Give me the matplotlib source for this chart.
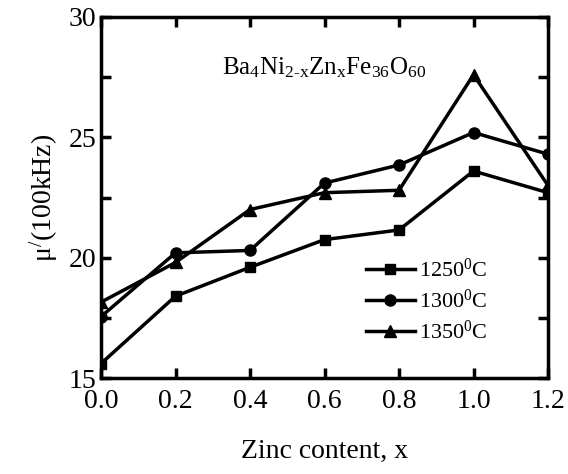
import matplotlib
matplotlib.use('Agg')
import matplotlib.pyplot as plt
from matplotlib.ticker import MultipleLocator

plt.rcParams['font.family'] = ['Liberation Serif', 'DejaVu Serif']
plt.rcParams['mathtext.fontset'] = 'custom'
plt.rcParams['mathtext.rm'] = 'Liberation Serif'
plt.rcParams['mathtext.it'] = 'Liberation Serif:italic'

x = [0.0, 0.2, 0.4, 0.6, 0.8, 1.0, 1.2]
mu_1250 = [15.6, 18.4, 19.6, 20.75, 21.15, 23.6, 22.7]
mu_1300 = [17.55, 20.2, 20.3, 23.1, 23.85, 25.2, 24.3]
mu_1350 = [18.15, 19.8, 22.0, 22.7, 22.8, 27.6, 23.0]

fig = plt.figure(figsize=(5.68, 4.74), dpi=100)
ax = fig.add_axes([101 / 568, 1 - 378 / 474, 447 / 568, 361 / 474])

ax.plot(x, mu_1250, 'k-', marker='s', lw=2.5, ms=7, label='1250$^0$C')
ax.plot(x, mu_1300, 'k-', marker='o', lw=2.5, ms=8, label='1300$^0$C')
ax.plot(x, mu_1350, 'k-', marker='^', lw=2.5, ms=8, label='1350$^0$C')

ax.set_xlim(0, 1.2)
ax.set_ylim(15, 30)
ax.xaxis.set_major_locator(MultipleLocator(0.2))
ax.yaxis.set_major_locator(MultipleLocator(5))
ax.yaxis.set_minor_locator(MultipleLocator(2.5))
ax.tick_params(which='both', direction='in', top=True, right=True, width=2.5,
               labelsize=20)
ax.tick_params(which='major', length=7)
ax.tick_params(which='minor', length=7)
ax.tick_params(axis='x', pad=8)
for s in ax.spines.values():
    s.set_linewidth(2.5)

ax.set_xlabel('Zinc content, x', fontsize=20, labelpad=18)
ax.set_ylabel('μ$^{/}$(100kHz)', fontsize=20, labelpad=6)

ax.text(0.5, 0.86, r'Ba$_4$Ni$_{\text{2-x}}$Zn$_\mathrm{x}$Fe$_{36}$O$_{60}$',
        transform=ax.transAxes, ha='center', va='center', fontsize=18)

ax.legend(loc='lower right', bbox_to_anchor=(0.91, 0.04), frameon=False,
          fontsize=16, handlelength=2.2, handletextpad=0.2, labelspacing=0.35)

fig.savefig('out.png', dpi=100)
